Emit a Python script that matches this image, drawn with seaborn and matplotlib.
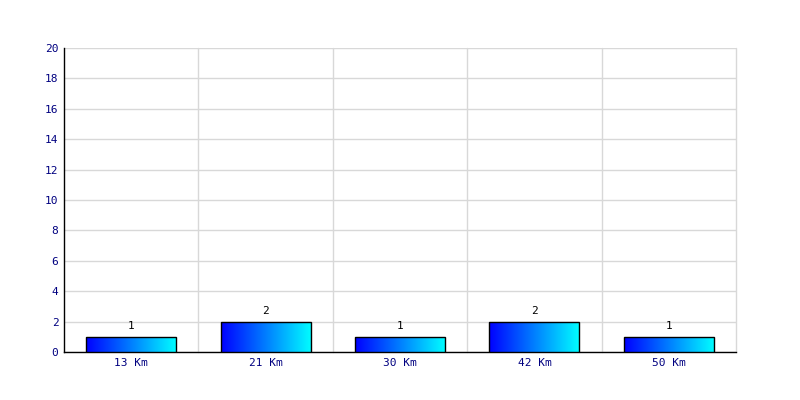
import matplotlib
matplotlib.use("Agg")
import matplotlib.pyplot as plt
import numpy as np
import pandas as pd
import seaborn as sns
from matplotlib.colors import LinearSegmentedColormap

categories = ["13 Km", "21 Km", "30 Km", "42 Km", "50 Km"]
counts = [1, 2, 1, 2, 1]
y_ticks = list(range(0, 21, 2))

df = pd.DataFrame({"dist": categories, "count": counts})

sns.set_style("white")
plt.rcParams['font.family'] = ['DejaVu Sans Mono']

fig = plt.figure(figsize=(8, 4), dpi=100)
ax = fig.add_axes([0.08, 0.12, 0.84, 0.76])

sns.barplot(ax=ax, data=df, x="dist", y="count", width=0.67,
            color="#0000ff", edgecolor="black", linewidth=1, zorder=3)

# horizontal blue -> cyan gradient inside each bar
grad = LinearSegmentedColormap.from_list("bc", ["#0000ff", "#00ffff"])
gradient = np.linspace(0, 1, 256).reshape(1, -1)
for p in ax.patches:
    x0, y0 = p.get_x(), p.get_y()
    w, h = p.get_width(), p.get_height()
    im = ax.imshow(gradient, cmap=grad, aspect="auto",
                   extent=[x0, x0 + w, y0, y0 + h], zorder=3.5)
    im.set_clip_path(p)
    p.set_facecolor("none")
    p.set_zorder(4)

for bars in ax.containers:
    ax.bar_label(bars, padding=4, fontsize=8, color="black")

ax.set_xlim(-0.5, len(categories) - 0.5)
ax.set_ylim(0, 20)
ax.set_yticks(y_ticks)
ax.set_yticklabels([str(t) for t in y_ticks])
ax.yaxis.grid(True, color="#d8d8d8", linewidth=1, zorder=0)
for xb in np.arange(0.5, len(categories) + 0.5, 1.0):
    ax.axvline(xb, color="#d8d8d8", linewidth=1, zorder=0, clip_on=False)
ax.set_axisbelow(True)

ax.tick_params(axis="both", length=0, labelsize=8, colors="#000080", pad=4)
ax.set_xlabel("")
ax.set_ylabel("")

for side in ["top", "right"]:
    ax.spines[side].set_visible(False)
for side in ["left", "bottom"]:
    ax.spines[side].set_color("black")
    ax.spines[side].set_linewidth(1)

fig.savefig("out.png", dpi=100)
